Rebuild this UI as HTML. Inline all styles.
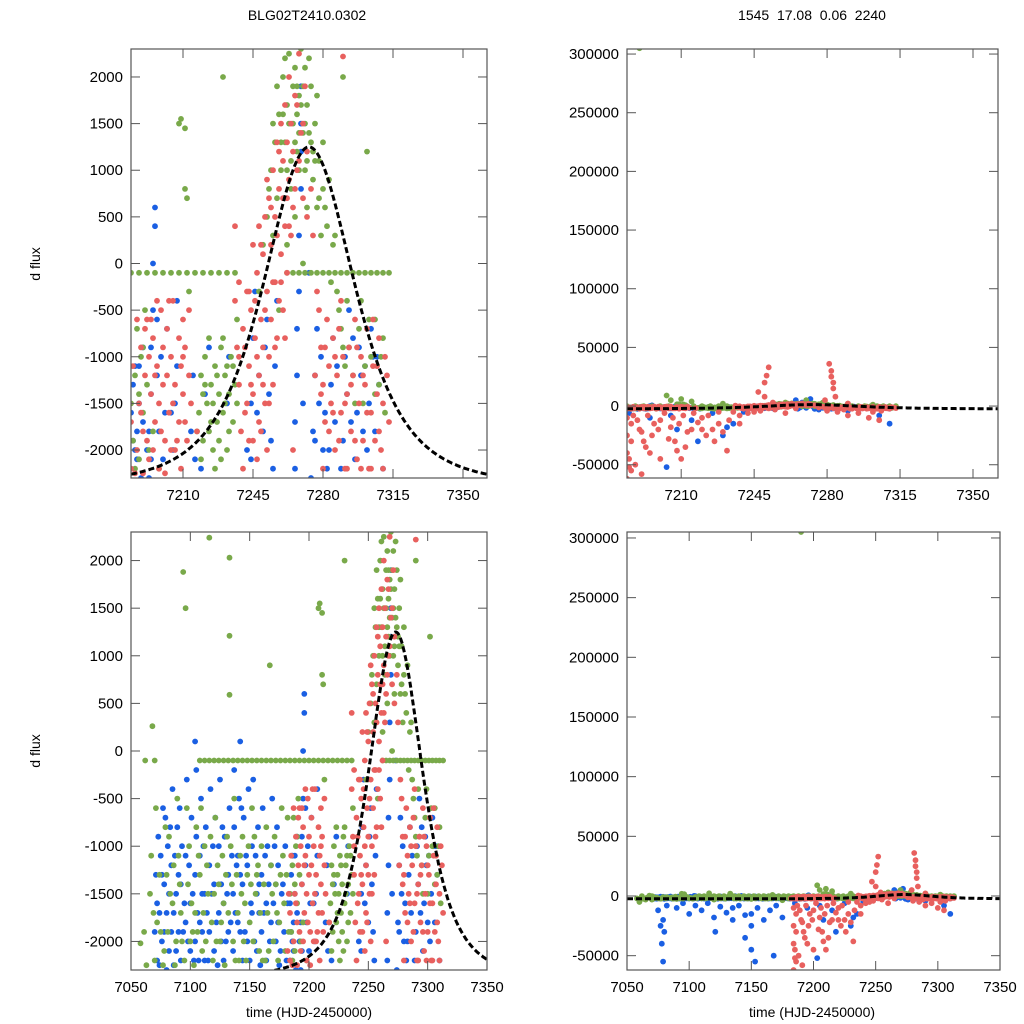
<!DOCTYPE html>
<html><head><meta charset="utf-8">
<style>
html,body{margin:0;padding:0;background:#fff;width:1024px;height:1024px;overflow:hidden;}
svg{display:block;font-family:"Liberation Sans",sans-serif;}
</style></head>
<body>
<svg id="chart" width="1024" height="1024" viewBox="0 0 1024 1024">
<rect x="0" y="0" width="1024" height="1024" fill="#fff"/>
<text x="307" y="20" text-anchor="middle" font-size="14">BLG02T2410.0302</text>
<text x="812" y="20" text-anchor="middle" font-size="14" xml:space="preserve">1545  17.08  0.06  2240</text>
<text transform="translate(40,264) rotate(-90)" text-anchor="middle" font-size="14">d flux</text>
<text transform="translate(40,751) rotate(-90)" text-anchor="middle" font-size="14">d flux</text>
<text x="309" y="1017" text-anchor="middle" font-size="14">time (HJD-2450000)</text>
<text x="812" y="1017" text-anchor="middle" font-size="14">time (HJD-2450000)</text>
</svg>
<script>
// ---- data ----
const greenPts = [[7058,-2020],[7062,-100],[7068,260],[7070,-100],[7066,-1500],[7070,-2200],[7072,-1800],[7075,-1900],[7078,-2100],[7080,-1300],[7082,-900],[7085,-1600],[7088,-2000],[7090,-1100],[7092,-1700],[7094,1880],[7095,-2200],[7096,1500],[7097,-600],[7098,-1400],[7102,-1900],[7105,-800],[7108,-1300],[7110,-2100],[7112,-1000],[7115,-1500],[7116,2240],[7118,-1800],[7121,-700],[7123,-1200],[7125,-2000],[7128,-1600],[7133,2030],[7133,1210],[7133,590],[7131,-900],[7135,-1400],[7138,-2200],[7140,-1700],[7142,-1100],[7145,-2000],[7148,-1300],[7150,-1800],[7152,-600],[7155,-1500],[7158,-2100],[7160,-1000],[7167,900],[7165,-1700],[7168,-1200],[7170,-2000],[7172,-1400],[7175,-1800],[7178,-1100],[7180,-2100],[7182,-700],[7104,-1700],[7119,-2200],[7127,-1100],[7143,-1500],[7157,-1200],[7163,-2200],[7086,-1200],[7100,-2000],
[7184,-1500],[7185,-1900],[7186,-1200],[7187,-700],[7188,-2100],[7189,-1000],[7190,-1600],[7191,-500],[7192,-1300],[7195,-1800],[7198,-2200],
[7208,1500],[7209,1550],[7211,1450],[7211,800],[7212,700],[7213,-300],
[7218,-1600],[7219,-1200],[7220,-1900],[7221,-1000],[7222,-1500],[7223,-1800],[7224,-1300],[7225,-2000],[7226,-1100],[7227,-1700],[7228,-1400],[7229,-900],[7230,-1600],[7231,-1200],[7232,-2000],[7233,-1400],[7234,-1000],[7235,-1700],[7236,-1300],[7237,-600],[7226,-2200],[7230,-800],[7220,-1400],[7224,-1700],[7228,-1900],[7232,-1100],
[7248,-300],[7250,200],[7252,500],[7254,1000],[7255,300],[7256,1300],[7257,700],[7258,1600],[7259,1000],[7260,2000],[7261,1300],[7262,1700],[7263,2250],[7264,1100],[7265,1500],[7266,2100],[7267,1200],[7268,1800],[7269,2300],[7270,1400],[7271,1000],[7272,1700],[7273,2200],[7274,1300],[7275,900],[7276,1500],[7277,600],[7278,1100],[7279,300],[7280,800],[7282,400],[7284,-200],[7286,300],[7288,-500],[7290,-900],[7292,-400],[7295,-1200],[7298,-700],[7300,-1500],[7302,1200],[7304,-1000],[7306,-600],[7308,-1300],[7310,-800],[7258,-500],[7262,200],[7266,500],[7270,0],[7264,800],[7268,1000],[7272,600],[7261,2200],[7267,1900],[7271,2100],
[7190,305000],[7203,9000],[7210,6000],[7270,5000],[7278,3000],[7060,-5000],[7065,-3000]];

const greenExtra = [[7061,-1900],[7063,-2250],[7067,-1100],[7069,-1700],[7071,-600],[7074,-1300],[7077,-2250],[7079,-800],[7081,-1900],[7083,-1500],[7087,-2250],[7089,-500],[7091,-1400],[7093,-2000],[7099,-1000],[7101,-1600],[7103,-2250],[7106,-1900],[7107,-1100],[7109,-600],[7111,-1700],[7113,-2000],[7114,-1200],[7117,-900],[7120,-1500],[7122,-2000],[7124,-1400],[7126,-1800],[7129,-2250],[7130,-1300],[7132,-1700],[7134,-1000],[7136,-2000],[7137,-500],[7139,-1300],[7141,-2200],[7144,-900],[7146,-1600],[7147,-2200],[7149,-1000],[7151,-1400],[7153,-2000],[7154,-900],[7156,-1300],[7159,-1700],[7161,-2200],[7162,-1400],[7164,-800],[7166,-2100],[7169,-1500],[7171,-900],[7173,-1700],[7174,-2200],[7176,-1300],[7177,-600],[7179,-1600],[7181,-1300],[7183,-1900],
[7186,-2200],[7188,-1400],[7190,-900],[7193,-2000],[7217,-1800],[7219,-2100],[7221,-1300],[7223,-800],[7225,-1500],[7227,-1200],[7229,-2100],[7231,-1500],[7233,-1800],[7235,-1100],[7237,-1500],
[7253,800],[7255,1500],[7257,1900],[7259,1300],[7260,1600],[7262,1000],[7263,1500],[7265,1900],[7266,1300],[7267,1600],[7268,1400],[7269,1700],[7270,1900],[7271,1500],[7272,1100],[7273,1400],[7274,1900],[7275,1200],[7276,1100],[7277,1800],[7278,700],[7280,1300],[7281,600],[7283,900],[7285,200],[7287,-300],[7289,-700],[7291,-1100],[7293,-900],[7296,-1500],[7299,-400],[7301,-1100],[7303,-600],[7306,-1400],[7309,-1000],[7311,-1600],
[7070,-3000],[7090,-2500],[7120,-3000],[7150,-2500],[7175,-3500],[7205,5000],[7215,4000],[7230,2000],[7260,3000],[7290,2000]];

const greenFlatT = [7108,7112,7116,7120,7124,7128,7132,7136,7140,7144,7148,7152,7156,7160,7164,7168,7172,7176,7180,7184,7188,7192,7196,7200,7204,7208,7212,7216,7220,7224,7228,7232,7236,7262,7265,7268,7271,7274,7277,7280,7283,7286,7289,7292,7295,7298,7301,7304,7307,7310,7313];
const greenFlatV = -100;

const bluePts = [[7072,-2200],[7072,-1600],[7073,-900],[7076,-2000],[7076,-1300],[7077,-600],[7080,-2300],[7080,-1700],[7081,-1000],[7084,-1900],[7084,-1200],[7085,-400],[7088,-2100],[7088,-1500],[7089,-800],[7092,-2200],[7092,-1400],[7093,-1000],[7096,-1800],[7096,-1100],[7097,-300],[7100,-2100],[7100,-1600],[7101,-700],[7104,-2000],[7104,-1300],[7105,-900],[7105,-200],[7108,-1800],[7108,-1100],[7109,-500],[7112,-2200],[7112,-1500],[7113,-800],[7116,-1900],[7116,-1200],[7117,-400],[7120,-2100],[7120,-1400],[7121,-700],[7124,-1700],[7124,-1000],[7125,-300],[7128,-2200],[7128,-1600],[7129,-900],[7132,-1900],[7132,-1300],[7133,-600],[7136,-2100],[7136,-1500],[7137,-800],[7137,-200],[7140,-1800],[7140,-1100],[7141,-500],[7144,-2200],[7144,-1400],[7145,-700],[7148,-2000],[7148,-1200],[7149,-400],[7152,-1700],[7152,-1000],[7153,-300],[7156,-2100],[7156,-1500],[7157,-800],[7160,-1900],[7160,-1300],[7161,-600],[7164,-2200],[7164,-1600],[7165,-1000],[7168,-1800],[7168,-1200],[7169,-500],[7172,-2000],[7172,-1400],[7173,-800],[7176,-2100],[7177,-1500],[7179,-1900],[7180,-1000],[7094,-1900],[7110,-1500],[7126,-2000],[7142,-1900],[7158,-1700],[7174,-1200],
[7184,-2200],[7184,-1600],[7185,-1300],[7186,-2000],[7186,-1100],[7187,-1800],[7188,-1500],[7189,-2300],[7190,-900],[7193,-2300],[7193,-1800],[7194,-1400],[7194,-900],[7195,-500],[7195,0],[7196,400],[7196,600],[7197,-1200],[7197,-600],[7200,-2100],[7201,-1600],[7202,-700],[7205,-2000],[7206,-1500],[7207,-1100],[7207,-400],[7214,-1800],[7215,-1200],[7219,-2200],[7221,-1400],[7223,-900],[7232,-1500],[7233,-1000],
[7242,-2000],[7244,-1500],[7245,-800],[7246,-300],[7248,-1200],[7250,-1800],[7252,-600],[7254,-1900],[7256,-1100],[7257,-400],[7266,-2200],[7266,-1700],[7267,-1200],[7267,-700],[7268,-300],[7268,300],[7269,800],[7270,-1500],[7269,1500],[7269,1900],[7269,1200],
[7273,-100],[7274,-2300],[7275,-1800],[7276,-1200],[7277,-700],[7278,-1500],[7280,-2000],[7283,-2000],[7284,-1300],[7285,-800],[7286,-1700],[7290,-1900],[7291,-1000],[7292,-1400],[7293,-500],[7296,-2100],[7297,-1600],[7298,-900],[7299,-1200],[7302,-2000],[7303,-1500],[7304,-700],[7305,-1000],[7308,-1300],[7310,-2200],
[7078,-40000],[7079,-55000],[7080,-30000],[7203,-52000],[7208,-20000],[7218,-30000],[7230,-25000],[7235,-15000],[7310,-15000],[7272,6000],[7265,5000],[7150,-45000],[7153,-55000],[7121,-30000],[7135,-20000],[7168,-50000],[7145,-35000],[7079,-20000],[7150,-15000]];

const blueExtra = [[7070,-1900],[7071,-1300],[7074,-2250],[7074,-1700],[7075,-1100],[7078,-1900],[7078,-1400],[7079,-700],[7082,-2100],[7082,-1500],[7083,-800],[7086,-2250],[7086,-1700],[7087,-1100],[7090,-1900],[7090,-1300],[7091,-600],[7095,-1600],[7098,-2000],[7099,-1200],[7102,-1500],[7103,-2200],[7104,100],[7106,-1700],[7107,-2200],[7110,-1900],[7111,-1000],[7114,-1700],[7115,-2200],[7118,-1500],[7119,-1000],[7122,-1800],[7123,-2250],[7126,-1400],[7127,-800],[7130,-2000],[7131,-1500],[7134,-1800],[7135,-1100],[7138,-1700],[7139,-1200],[7142,-1300],[7142,100],[7143,-600],[7146,-1900],[7147,-1100],[7150,-2200],[7151,-1600],[7154,-2000],[7155,-1100],[7158,-1400],[7159,-2250],[7162,-1700],[7163,-1100],[7166,-1400],[7167,-2000],[7170,-1600],[7171,-1000],[7174,-1800],[7175,-2250],[7178,-1400],[7181,-2200],[7182,-1600],
[7185,-1900],[7187,-2100],[7188,-1100],[7190,-1700],[7192,-2000],[7194,-2100],[7198,-1800],[7199,-1000],[7204,-1600],[7216,-2100],[7244,-2100],[7247,-1600],[7251,-900],[7253,-1400],[7255,-2200],[7276,-1900],[7279,-1000],[7281,-1600],[7282,-2200],[7287,-1100],[7289,-2200],[7294,-1700],[7295,-800],[7300,-1800],[7301,-1100],[7306,-1800],[7307,-1000],
[7075,-12000],[7077,-25000],[7082,-8000],[7090,-10000],[7095,-6000],[7100,-15000],[7105,-8000],[7110,-12000],[7115,-6000],[7120,-18000],[7125,-9000],[7130,-14000],[7135,-10000],[7140,-8000],[7145,-16000],[7150,-25000],[7155,-10000],[7160,-20000],[7165,-12000],[7170,-8000],[7175,-18000],[7185,-6000],[7195,-10000],[7205,-8000],[7215,-12000],[7225,-6000],[7232,-18000],[7240,-5000],[7268,3000],[7276,-3000],[7290,-4000],[7305,-8000]];

const redPts = [[7182,-2100],[7183,-1500],[7184,-2200],[7184,-62000],[7185,-45000],[7186,-30000],[7187,-2000],[7188,-1500],[7188,-50000],[7189,-900],[7190,-1800],[7191,-1200],[7191,-58000],[7192,-600],[7193,-2100],[7194,-1400],[7195,-800],[7195,-40000],[7196,-1700],[7197,-1100],[7198,-2200],[7199,-500],[7200,-1300],[7201,-1900],[7202,-700],[7203,-1600],[7204,-1000],[7205,-400],[7206,-2000],[7206,-1300],[7207,-30000],
[7208,-1700],[7209,-1100],[7210,-600],[7210,-1400],[7211,-900],[7212,-1900],[7212,-35000],[7213,-1200],[7215,-20000],[7217,-1800],[7222,-25000],[7228,-15000],[7232,-38000],[7236,-400],[7236,400],[7237,-900],[7238,-1300],[7238,-200],
[7240,-2200],[7241,-1600],[7241,-900],[7242,-300],[7243,-1900],[7243,-1100],[7244,-500],[7245,200],[7245,-1400],[7246,-800],[7247,-2100],[7247,-100],[7248,400],[7248,-1200],[7249,-600],[7249,-1800],[7250,100],[7250,-900],[7251,500],[7251,-1500],[7252,-300],[7252,-2000],[7253,700],[7253,-1000],[7254,200],[7254,-600],[7255,1000],[7255,-1300],[7256,500],[7256,-200],[7257,1300],[7257,-800],[7258,800],[7258,-400],[7259,1500],[7259,100],[7260,1100],[7260,-500],[7261,1700],[7261,400],[7262,1300],[7262,-100],[7263,2000],[7263,900],[7264,1500],[7265,600],[7266,1800],[7267,1000],[7268,2250],[7269,1400],[7270,700],[7271,1900],[7272,1200],[7274,800],[7275,300],
[7278,-500],[7279,-900],[7280,-1300],[7281,-1700],[7282,-600],[7283,-1100],[7284,-1500],[7285,-800],[7286,-2000],[7287,-1200],[7288,-700],[7289,-1600],[7290,-1000],[7290,2220],[7291,-2200],[7292,-1400],[7293,-900],[7294,-1800],[7295,-1200],[7296,-600],[7297,-2100],[7298,-1500],[7299,-1000],[7300,-1900],[7301,-1300],[7302,-700],[7303,-2200],[7304,-1600],[7305,-1100],[7306,-1900],[7307,-1400],[7308,-800],[7309,-2000],[7310,-1500],[7311,-1000],[7313,-1700],
[7252,33000],[7250,20000],[7281,36000],[7282,25000],[7283,15000],[7284,8000],[7190,-20000],[7196,-25000],[7200,-12000],[7205,-18000],[7220,-10000],[7225,-20000],[7238,-8000],[7245,-5000],[7260,-6000],[7290,-8000],[7300,-10000],[7305,-12000],[7247,12000],[7186,-55000],[7186,-15000],[7193,-35000],[7210,-45000],[7200,-45000]];

const redExtra = [[7184,-1700],[7185,-1100],[7186,-2250],[7187,-600],[7189,-1600],[7190,-2250],[7191,-700],[7192,-1900],[7193,-1000],[7194,-600],[7195,-2000],[7196,-1200],[7197,-400],[7198,-1500],[7199,-1800],[7200,-900],[7201,-2250],[7202,-1200],[7203,-400],[7204,-2000],[7205,-1500],[7207,-1900],[7208,-800],[7209,-2200],[7210,-1000],[7211,-1700],[7213,-500],[7214,-1500],[7238,-1000],[7239,-1800],[7240,-700],[7242,-1500],[7243,-300],[7244,-1300],[7245,-1900],[7246,-400],[7247,-1000],[7248,-1700],[7249,200],[7250,-1300],[7251,-500],[7252,900],[7253,-1500],[7254,600],[7255,-200],[7256,-900],[7257,300],[7258,1200],[7259,-200],[7260,700],[7261,-800],[7262,700],[7263,400],[7264,300],[7265,1200],[7266,800],[7267,1700],[7268,1100],[7270,1500],[7272,500],[7276,-1200],[7277,-300],[7279,-1400],[7280,-2200],[7281,-900],[7283,-1800],[7285,-1600],[7286,-1000],[7288,-1900],[7289,-400],[7291,-1500],[7292,-2200],[7294,-1300],[7296,-1900],[7297,-900],[7299,-2200],[7300,-1200],[7302,-1600],[7304,-2200],[7305,-600],[7307,-1100],[7308,-1800],[7310,-2200],[7312,-1200],
[7184,-10000],[7184,-25000],[7184,-40000],[7185,-52000],[7187,-8000],[7189,-12000],[7191,-22000],[7192,-30000],[7194,-8000],[7197,-15000],[7199,-20000],[7202,-6000],[7204,-28000],[7206,-10000],[7208,-38000],[7209,-15000],[7211,-8000],[7213,-22000],[7216,-6000],[7218,-14000],[7220,-20000],[7223,-8000],[7226,-30000],[7228,-5000],[7230,-22000],[7233,-12000],[7235,-5000],[7238,-15000],[7242,-6000],[7248,-4000],[7255,-3000],[7265,-2000],[7280,-4000],[7285,-5000],[7288,-3000],[7295,-6000],[7302,-5000],[7306,-4000],[7250,8000],[7251,26000],[7282,30000],[7283,20000],[7254,3000],[7279,5000]];

const modelT0 = 7273, modelW = 42, modelBase = -2380, modelAmp = 3630;

// ---- panels ----
const panels = [
  {name:'top-left', x0:131, x1:487, y0:49, y1:478, tmin:7184, tmax:7362, fmin:-2300, fmax:2300,
   xt:[7210,7245,7280,7315,7350], yt:[-2000,-1500,-1000,-500,0,500,1000,1500,2000]},
  {name:'top-right', x0:627, x1:998, y0:49, y1:478, tmin:7184, tmax:7362, fmin:-61300, fmax:304300,
   xt:[7210,7245,7280,7315,7350], yt:[-50000,0,50000,100000,150000,200000,250000,300000]},
  {name:'bottom-left', x0:131, x1:487, y0:532, y1:970, tmin:7050, tmax:7350, fmin:-2300, fmax:2300,
   xt:[7050,7100,7150,7200,7250,7300,7350], yt:[-2000,-1500,-1000,-500,0,500,1000,1500,2000]},
  {name:'bottom-right', x0:627, x1:1000, y0:532, y1:970, tmin:7050, tmax:7350, fmin:-62000, fmax:305000,
   xt:[7050,7100,7150,7200,7250,7300,7350], yt:[-50000,0,50000,100000,150000,200000,250000,300000]}
];
const svg = document.getElementById('chart');
const NS = 'http://www.w3.org/2000/svg';
function mk(tag, attrs, parent){
  const e = document.createElementNS(NS, tag);
  for (const k in attrs) e.setAttribute(k, attrs[k]);
  (parent||svg).appendChild(e);
  return e;
}
function model(t){ const x=(t-modelT0)/modelW; return modelBase + modelAmp/Math.pow(1+x*x,2); }

panels.forEach((p, i) => {
  const sx = t => p.x0 + (t - p.tmin) / (p.tmax - p.tmin) * (p.x1 - p.x0);
  const sy = f => p.y1 - (f - p.fmin) / (p.fmax - p.fmin) * (p.y1 - p.y0);
  const g = mk('g', {});
  
  
  const cp = mk('clipPath', {id:'clip'+i}, g);
  mk('rect', {x:p.x0, y:p.y0, width:p.x1-p.x0, height:p.y1-p.y0}, cp);
  const plot = mk('g', {'clip-path':'url(#clip'+i+')'}, g);
  const dot = (t, f, col, nm) => {
    const c = mk('circle', {cx:sx(t).toFixed(1), cy:sy(f).toFixed(1), r:2.9, fill:col}, plot);
    
    
  };
  bluePts.forEach(d => dot(d[0], d[1], '#1a5fe3', 'blue-point'));
  blueExtra.forEach(d => dot(d[0], d[1], '#1a5fe3', 'blue-point'));
  greenFlatT.forEach(t => dot(t, greenFlatV, '#79a94a', 'green-point'));
  greenPts.forEach(d => dot(d[0], d[1], '#79a94a', 'green-point'));
  greenExtra.forEach(d => dot(d[0], d[1], '#79a94a', 'green-point'));
  redPts.forEach(d => dot(d[0], d[1], '#e8605e', 'red-point'));
  redExtra.forEach(d => dot(d[0], d[1], '#e8605e', 'red-point'));
  let path = '';
  for (let t = p.tmin; t <= p.tmax; t += 0.5) path += (path ? 'L' : 'M') + sx(t).toFixed(1) + ',' + sy(model(t)).toFixed(1);
  const ml = mk('path', {d:path, fill:'none', stroke:'#000', 'stroke-width':3, 'stroke-dasharray':'6,3'}, plot);
  
  
  const tk = 9;
  p.xt.forEach(t => {
    const x = sx(t);
    mk('line', {x1:x, x2:x, y1:p.y1, y2:p.y1-tk, stroke:'#555', 'stroke-width':1}, g);
    mk('line', {x1:x, x2:x, y1:p.y0, y2:p.y0+tk, stroke:'#555', 'stroke-width':1}, g);
    const lb = mk('text', {x:x, y:p.y1+22, 'text-anchor':'middle', 'font-size':15, fill:'#000'}, g);
    
    
    lb.textContent = t;
  });
  p.yt.forEach(f => {
    const y = sy(f);
    mk('line', {x1:p.x0, x2:p.x0+tk, y1:y, y2:y, stroke:'#555', 'stroke-width':1}, g);
    mk('line', {x1:p.x1, x2:p.x1-tk, y1:y, y2:y, stroke:'#555', 'stroke-width':1}, g);
    const lb = mk('text', {x:p.x0-8, y:y+5, 'text-anchor':'end', 'font-size':15, fill:'#000'}, g);
    
    
    lb.textContent = f;
  });
  mk('rect', {x:p.x0, y:p.y0, width:p.x1-p.x0, height:p.y1-p.y0, fill:'none', stroke:'#555', 'stroke-width':1.2}, g);
});
</script>
</body></html>
